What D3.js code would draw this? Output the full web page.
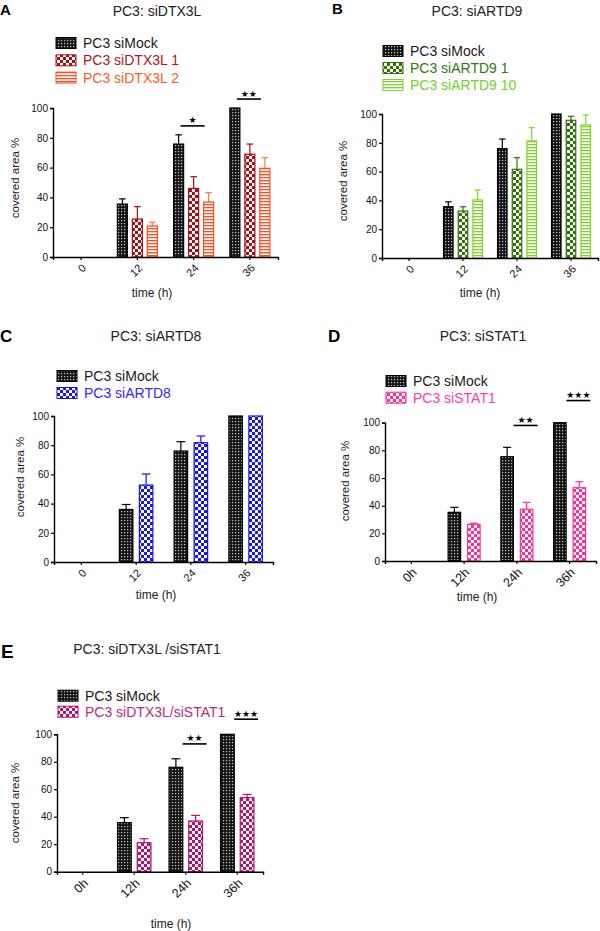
<!DOCTYPE html>
<html><head><meta charset="utf-8">
<script src="https://cdn.jsdelivr.net/npm/d3@7"></script>
<style>body{margin:0;background:#fff}svg{display:block;font-family:Arial,"Liberation Sans",Helvetica,sans-serif}</style>
</head><body>
<script>
// ---------- DATA ----------
const times = ["0", "12", "24", "36"];
const timesH = ["0h", "12h", "24h", "36h"];
const yTicks = [0, 20, 40, 60, 80, 100];

// Panel A
const mockA = [0, 35.5, 75.8, 100];      const mockAErr = [0, 3.5, 6.2, 0];
const dtx3l1 = [0, 25.5, 46, 69];        const dtx3l1Err = [0, 8.3, 7.9, 6.8];
const dtx3l2 = [0, 20.8, 36.9, 59.5];    const dtx3l2Err = [0, 2.5, 6.3, 7.1];
const sigA = [{t: "24", y: 88, s: "★"}, {t: "36", y: 106, s: "★★"}];
// Panel B
const mockB = [0, 35.6, 76, 100];        const mockBErr = [0, 3.4, 6.6, 0];
const artd9a = [0, 32.6, 61.6, 95.6];    const artd9aErr = [0, 3, 8.1, 2.8];
const artd9b = [0, 40.3, 81.3, 92.4];    const artd9bErr = [0, 6.9, 9.2, 6.9];
// Panel C
const mockC = [0, 36, 76, 100];          const mockCErr = [0, 3.4, 6.4, 0];
const artd8 = [0, 52.7, 81.7, 100];      const artd8Err = [0, 7.6, 4.6, 0];
// Panel D
const mockD = [0, 35.2, 75.4, 100];      const mockDErr = [0, 3.6, 6.8, 0];
const stat1 = [0, 26.5, 37.4, 53];       const stat1Err = [0, 0.8, 5, 4.3];
const sigD = [{t: "24h", y: 98, s: "★★"}, {t: "36h", y: 116, s: "★★★"}];
// Panel E
const mockE = [0, 35.7, 76, 100];        const mockEErr = [0, 3.6, 6.2, 0];
const dtxStat = [0, 21.1, 36.9, 53.9];   const dtxStatErr = [0, 2.9, 4.1, 2.4];
const sigE = [{t: "24h", y: 93, s: "★★"}, {t: "36h", y: 111, s: "★★★"}];

// ---------- DRAWING ----------
const svg = d3.select("body").append("svg").attr("width", 600).attr("height", 931);
svg.append("rect").attr("width", 600).attr("height", 931).attr("fill", "#fff");
const defs = svg.append("defs");

function dotPattern(id) {
  const p = defs.append("pattern").attr("id", id).attr("patternUnits", "userSpaceOnUse")
    .attr("width", 3).attr("height", 3);
  p.append("rect").attr("width", 3).attr("height", 3).attr("fill", "#151515");
  p.append("rect").attr("x", 1).attr("y", 1).attr("width", 1.2).attr("height", 1.2).attr("fill", "#c8c8c8");
}
function checkPattern(id, c) {
  const p = defs.append("pattern").attr("id", id).attr("patternUnits", "userSpaceOnUse")
    .attr("width", 6).attr("height", 6);
  p.append("rect").attr("width", 6).attr("height", 6).attr("fill", "#fff");
  p.append("rect").attr("width", 3).attr("height", 3).attr("fill", c);
  p.append("rect").attr("x", 3).attr("y", 3).attr("width", 3).attr("height", 3).attr("fill", c);
}
function stripePattern(id, c) {
  const p = defs.append("pattern").attr("id", id).attr("patternUnits", "userSpaceOnUse")
    .attr("width", 6).attr("height", 3);
  p.append("rect").attr("width", 6).attr("height", 3).attr("fill", "#fff");
  p.append("rect").attr("width", 6).attr("height", 1.3).attr("fill", c);
}
dotPattern("pMock");
checkPattern("pDtx1", "#a50e12");
stripePattern("pDtx2", "#ff4d1c");
checkPattern("pArtd9a", "#2f7206");
stripePattern("pArtd9b", "#7fd12c");
checkPattern("pArtd8", "#1414ee");
checkPattern("pStat1", "#ff2e96");
checkPattern("pDtxStat", "#b4106e");

function panel(cfg) {
  const g = svg.append("g");
  // letter + title
  g.append("text").attr("x", cfg.letterX).attr("y", cfg.letterY).attr("font-weight", "bold")
    .attr("font-size", cfg.letterSize).text(cfg.letter);
  g.append("text").attr("x", cfg.titleX).attr("y", cfg.titleY).attr("text-anchor", "middle")
    .attr("font-size", 14).attr("fill", "#222").text(cfg.title);

  const x = d3.scaleBand().domain(cfg.times).range([cfg.x0, cfg.x1]).padding(0);
  const y = d3.scaleLinear().domain([0, 100]).range([cfg.yBot, cfg.yTop]);
  const n = cfg.series.length;
  const inner = d3.scaleBand().domain(d3.range(n))
    .range([0, n * (cfg.bw + cfg.gap) - cfg.gap]).paddingInner(cfg.gap / (cfg.bw + cfg.gap)).paddingOuter(0);
  const innerW = n * (cfg.bw + cfg.gap) - cfg.gap;
  const bx = (t, i) => x(t) + x.bandwidth() / 2 - innerW / 2 + inner(i);

  // bars
  cfg.series.forEach((s, i) => {
    cfg.times.forEach((t, j) => {
      const v = s.values[j];
      if (v <= 0) return;
      const cx = bx(t, i) + inner.bandwidth() / 2;
      if (s.errs[j] > 0) {
        const ec = s.errColor || s.color;
        g.append("line").attr("x1", cx).attr("x2", cx).attr("y1", y(v)).attr("y2", y(v + s.errs[j]))
          .attr("stroke", ec).attr("stroke-width", 1.2);
        g.append("line").attr("x1", cx - cfg.bw * 0.3).attr("x2", cx + cfg.bw * 0.3)
          .attr("y1", y(v + s.errs[j])).attr("y2", y(v + s.errs[j]))
          .attr("stroke", ec).attr("stroke-width", 1.2);
      }
      g.append("rect").attr("x", bx(t, i) + 0.5).attr("y", y(v))
        .attr("width", inner.bandwidth() - 1).attr("height", y(0) - y(v))
        .attr("fill", `url(#${s.pattern})`).attr("stroke", s.color).attr("stroke-width", 1.2);
    });
  });

  // axes
  const ya = g.append("g").attr("transform", `translate(${cfg.x0},0)`)
    .call(d3.axisLeft(y).tickValues(yTicks).tickSize(3).tickPadding(2));
  ya.selectAll("text").attr("font-size", 10).attr("fill", "#111");
  const xa = g.append("g").attr("transform", `translate(0,${cfg.yBot})`)
    .call(d3.axisBottom(x).tickSize(3).tickFormat(""));
  [ya, xa].forEach(a => {
    a.select(".domain").attr("stroke", "#000").attr("stroke-width", 1.4);
    a.selectAll(".tick line").attr("stroke", "#000").attr("stroke-width", 1.2);
  });
  // rotated x tick labels
  cfg.times.forEach(t => {
    const cx = x(t) + x.bandwidth() / 2;
    g.append("text").attr("transform", `translate(${cx + 3},${cfg.yBot + 9}) rotate(-45)`)
      .attr("text-anchor", "end").attr("dy", "0.35em").attr("font-size", cfg.xTickSize)
      .attr("fill", "#111").text(t);
  });
  // axis labels
  g.append("text").attr("transform", `translate(${cfg.ylabX},${cfg.ylabY}) rotate(-90)`)
    .attr("text-anchor", "middle").attr("dy", "0.35em").attr("font-size", 11.5).attr("fill", "#222")
    .text("covered area %");
  g.append("text").attr("x", cfg.xlabX).attr("y", cfg.xlabY).attr("text-anchor", "middle")
    .attr("font-size", 12).attr("fill", "#222").text("time (h)");

  // significance
  (cfg.sig || []).forEach(s => {
    const cx = bx(s.t, 1) + inner.bandwidth() / 2 - 1;
    g.append("line").attr("x1", cx - 12).attr("x2", cx + 12).attr("y1", y(s.y)).attr("y2", y(s.y))
      .attr("stroke", "#000").attr("stroke-width", 1.6);
    g.append("text").attr("x", cx).attr("y", y(s.y) - 2.5).attr("text-anchor", "middle")
      .attr("font-family", "DejaVu Sans").attr("font-size", 9).text(s.s);
  });

  // legend
  cfg.series.forEach((s, i) => {
    const ly = cfg.legY + i * cfg.legDy;
    g.append("rect").attr("x", cfg.legX).attr("y", ly - 5.5).attr("width", 20).attr("height", 11)
      .attr("fill", `url(#${s.pattern})`).attr("stroke", s.color).attr("stroke-width", 1);
    g.append("text").attr("x", cfg.legX + 27).attr("y", ly).attr("dy", "0.36em")
      .attr("font-size", 14).attr("fill", s.textColor).text(s.name);
  });
}

const mockSeries = (v, e) => ({name: "PC3 siMock", values: v, errs: e, color: "#000", textColor: "#1a1a1a", pattern: "pMock"});

panel({letter: "A", letterX: 0, letterY: 15, letterSize: 15, title: "PC3: siDTX3L", titleX: 157, titleY: 16,
  times: times, x0: 53, x1: 278, yTop: 108, yBot: 257, bw: 11, gap: 4, xTickSize: 11,
  ylabX: 15, ylabY: 178, xlabX: 152, xlabY: 297, legX: 56, legY: 43, legDy: 17.3, sig: sigA,
  series: [mockSeries(mockA, mockAErr),
    {name: "PC3 siDTX3L 1", values: dtx3l1, errs: dtx3l1Err, color: "#a50e12", textColor: "#b01418", pattern: "pDtx1"},
    {name: "PC3 siDTX3L 2", values: dtx3l2, errs: dtx3l2Err, color: "#ff4d1c", errColor: "#ff7a4a", textColor: "#ff5a22", pattern: "pDtx2"}]});

panel({letter: "B", letterX: 332, letterY: 14, letterSize: 15, title: "PC3: siARTD9", titleX: 477, titleY: 16,
  times: times, x0: 382, x1: 598, yTop: 114, yBot: 258, bw: 10.5, gap: 4.2, xTickSize: 11,
  ylabX: 343, ylabY: 181, xlabX: 480, xlabY: 297, legX: 383, legY: 51, legDy: 17,
  series: [mockSeries(mockB, mockBErr),
    {name: "PC3 siARTD9 1", values: artd9a, errs: artd9aErr, color: "#2f7206", textColor: "#2d7a10", pattern: "pArtd9a"},
    {name: "PC3 siARTD9 10", values: artd9b, errs: artd9bErr, color: "#7fd12c", textColor: "#74cf2a", pattern: "pArtd9b"}]});

panel({letter: "C", letterX: 0, letterY: 342, letterSize: 17, title: "PC3: siARTD8", titleX: 156, titleY: 341,
  times: times, x0: 54, x1: 273, yTop: 416, yBot: 562, bw: 14.5, gap: 5.5, xTickSize: 11,
  ylabX: 20, ylabY: 477, xlabX: 156, xlabY: 599, legX: 57, legY: 376, legDy: 17,
  series: [mockSeries(mockC, mockCErr),
    {name: "PC3 siARTD8", values: artd8, errs: artd8Err, color: "#1414ee", textColor: "#2a2aff", pattern: "pArtd8"}]});

panel({letter: "D", letterX: 328, letterY: 342, letterSize: 17, title: "PC3: siSTAT1", titleX: 483, titleY: 341,
  times: timesH, x0: 385, x1: 596, yTop: 422.7, yBot: 561, bw: 13.5, gap: 6, xTickSize: 12.5,
  ylabX: 345, ylabY: 481, xlabX: 477, xlabY: 601, legX: 386, legY: 381, legDy: 16.7, sig: sigD,
  series: [mockSeries(mockD, mockDErr),
    {name: "PC3 siSTAT1", values: stat1, errs: stat1Err, color: "#ff2e96", textColor: "#ff3ca0", pattern: "pStat1"}]});

panel({letter: "E", letterX: 1, letterY: 658, letterSize: 19, title: "PC3: siDTX3L /siSTAT1", titleX: 147, titleY: 654,
  times: timesH, x0: 57, x1: 263, yTop: 734.3, yBot: 871.7, bw: 14.7, gap: 5, xTickSize: 12.5,
  ylabX: 15, ylabY: 803, xlabX: 171, xlabY: 928, legX: 58, legY: 695.7, legDy: 16,
  sig: sigE,
  series: [mockSeries(mockE, mockEErr),
    {name: "PC3 siDTX3L/siSTAT1", values: dtxStat, errs: dtxStatErr, color: "#b4106e", textColor: "#b82a80", pattern: "pDtxStat"}]});
</script>
</body></html>
